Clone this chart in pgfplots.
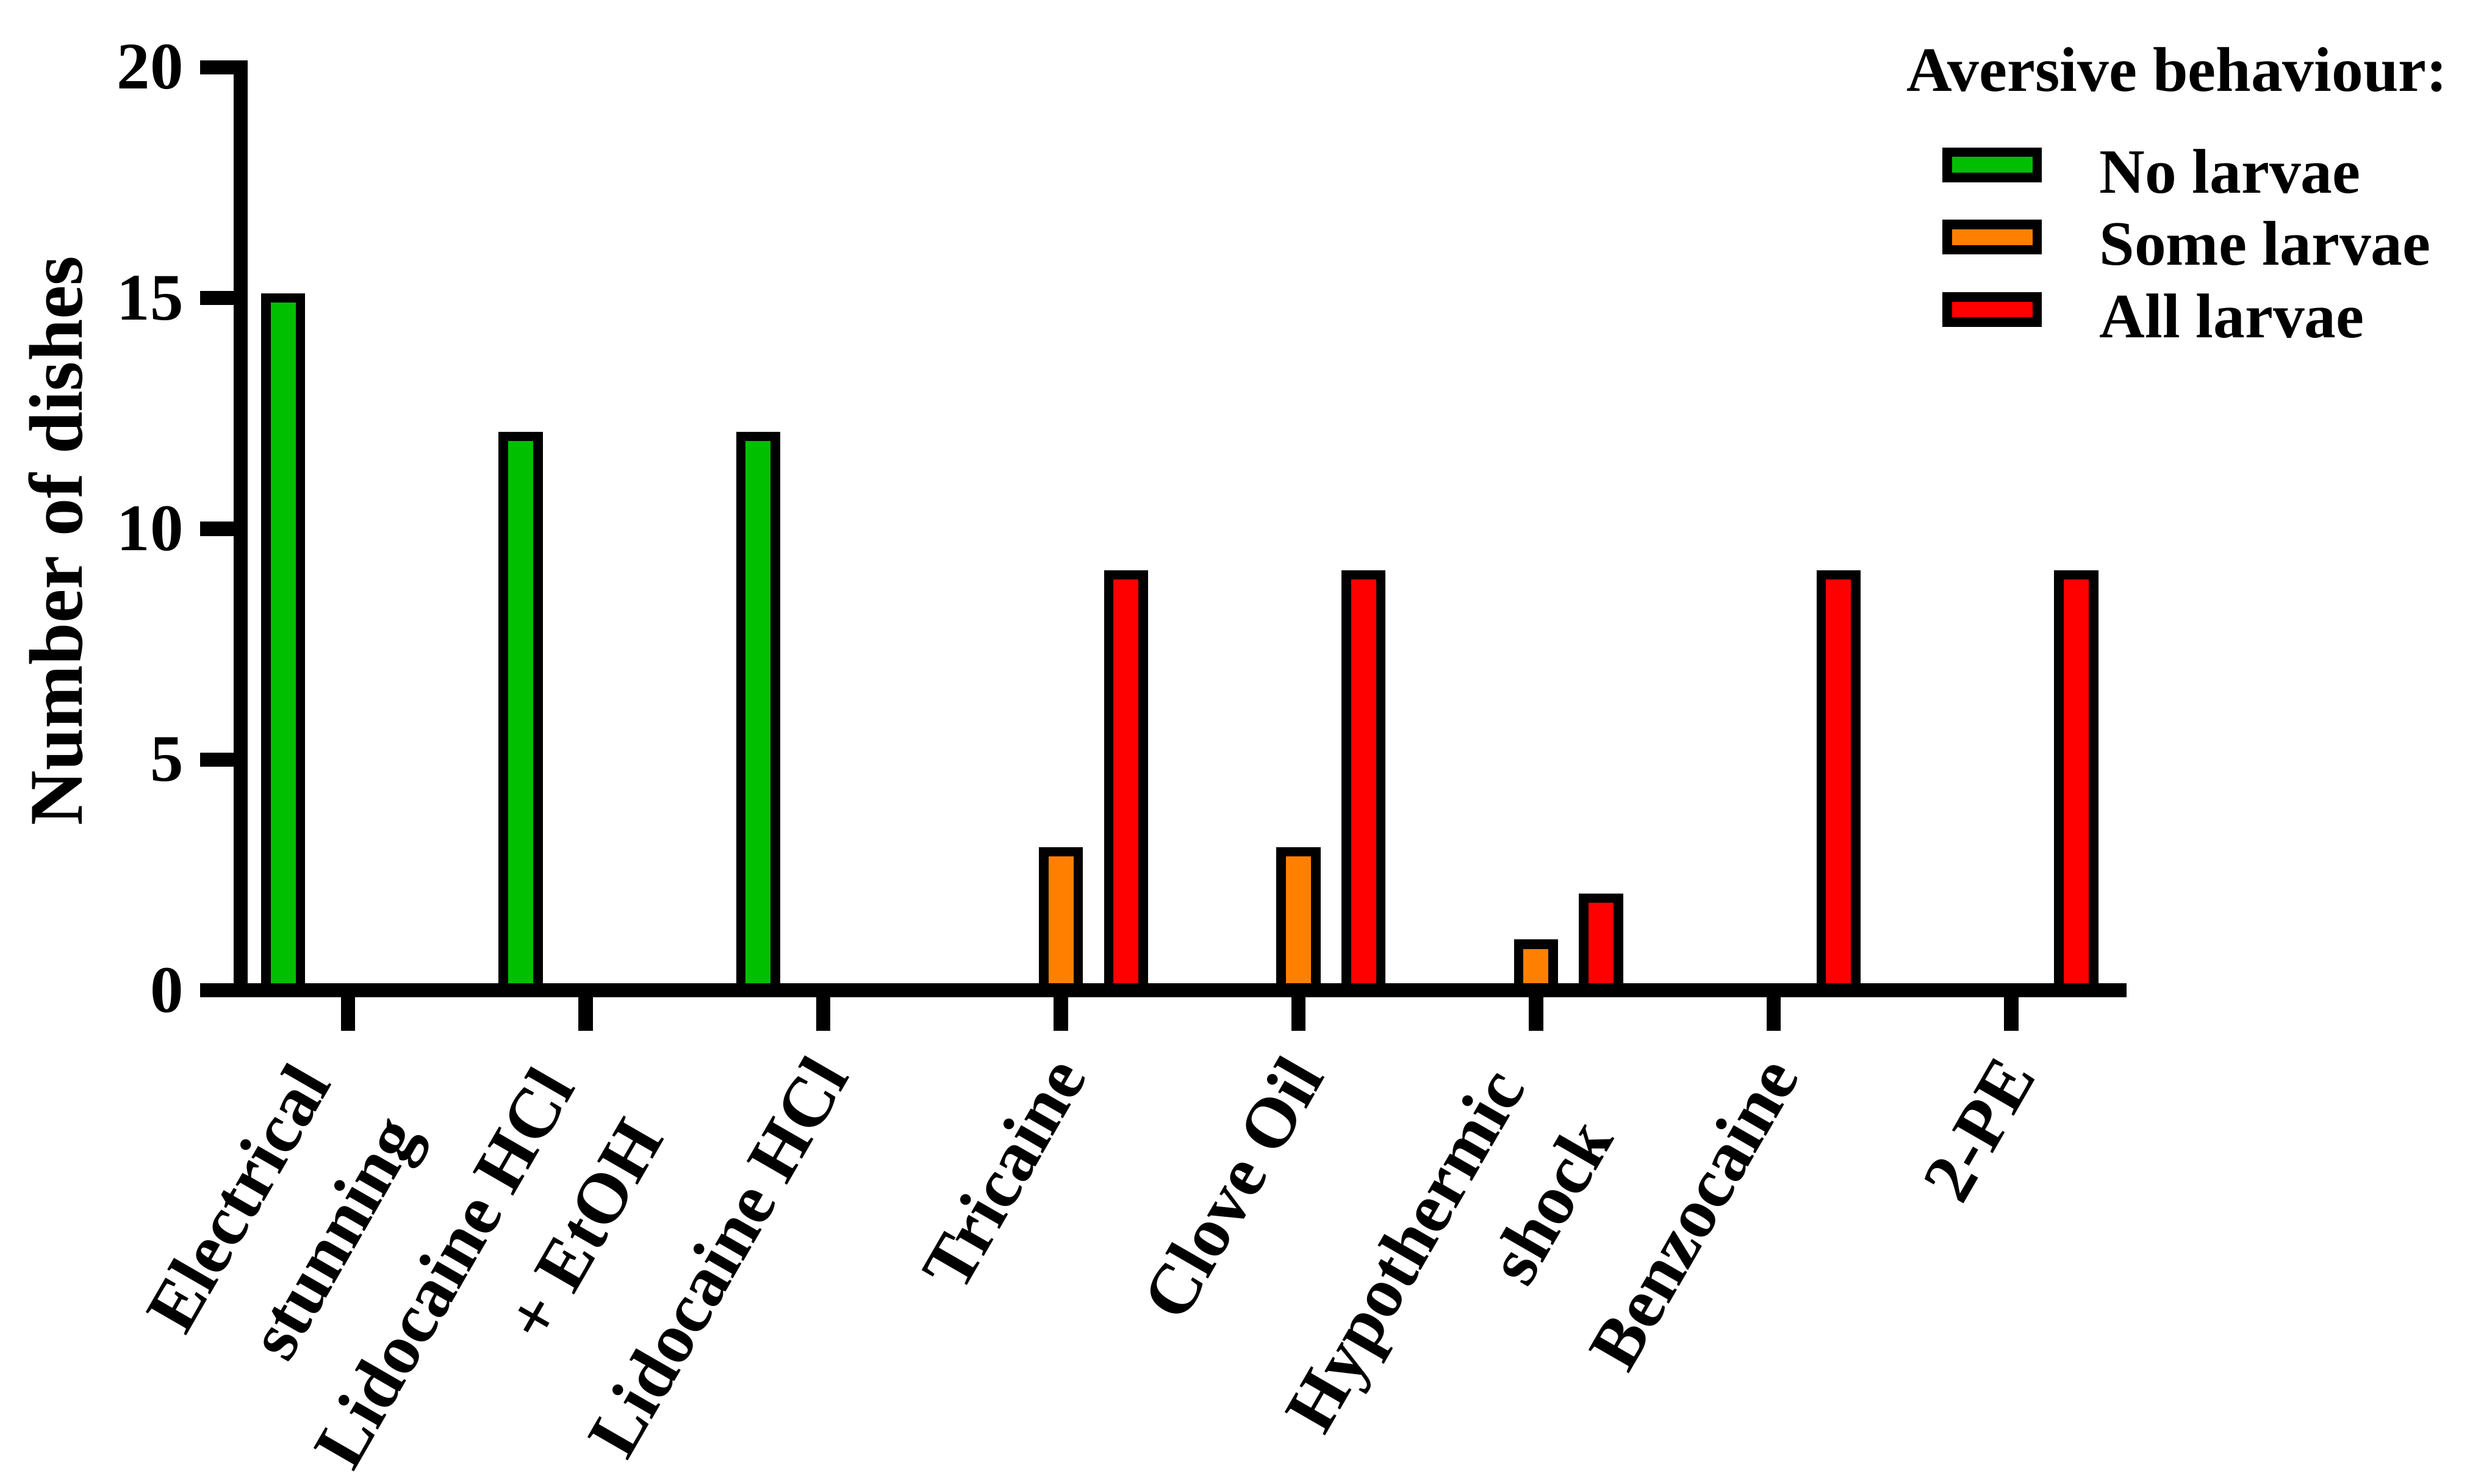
\documentclass[border=0pt]{standalone}
\usepackage{fontspec}
\setmainfont{Liberation Serif}
\usepackage{pgfplots}
\pgfplotsset{compat=1.18}

\definecolor{cgreen}{RGB}{0,191,0}
\definecolor{corange}{RGB}{255,128,0}
\definecolor{cred}{RGB}{255,0,0}

% two-line tick labels sit a little lower and further back than one-line ones
\newcommand{\twoline}[2]{#1\rule{5.8pt}{0pt}\rule{0pt}{20.9pt}\\#2\rule{5.8pt}{0pt}}

\pgfplotsset{
  prismbar/.style={
    draw=black, line width=2pt, fill=#1,
    legend image code/.code={
      \draw[line width=2pt, draw=black, fill=#1] (0pt,0pt) rectangle (19pt,5.3pt);
      \path[draw=none, fill=none] (0pt,-3pt) rectangle (32.1pt,9.5pt);
    },
  },
}

\begin{document}
\begin{tikzpicture}
\useasboundingbox (-50.67pt,-103.9pt) rectangle (472pt,208.67pt);
\begin{axis}[
  at={(0pt,0pt)}, anchor=south west,
  scale only axis,
  width=397.33pt, height=194.5pt,
  ybar=6.43pt, bar width=7.27pt,
  xmin=-0.4529, xmax=7.4858,
  ymin=0, ymax=20,
  axis x line*=bottom, axis y line*=left,
  axis line style={line width=3pt},
  x axis line style={shorten <=-8.5pt},
  y axis line style={line cap=rect},
  axis on top,
  clip=false,
  tick align=outside,
  major tick length=8.5pt,
  tick style={line width=3pt, black},
  xtick={0,...,7},
  ytick={0,5,10,15,20},
  xticklabels={\twoline{Electrical}{stunning}, \twoline{Lidocaine HCl}{+ EtOH}, Lidocaine HCl, Tricaine, Clove Oil, \twoline{Hypothermic}{shock}, Benzocaine, 2-PE},
  xticklabel style={xshift=3pt, yshift=-4pt, rotate=60, anchor=east, align=right,
    font=\fontsize{15}{21.5}\selectfont\bfseries},
  yticklabel style={font=\fontsize{14}{16}\selectfont\bfseries},
  /pgf/number format/assume math mode=true,
  ylabel={Number of dishes},
  ylabel style={at={(axis description cs:-0.0841,0.4871)}, anchor=base,
    font=\fontsize{16}{18}\selectfont\bfseries},
  legend cell align=left,
  legend style={draw=none, fill=none, inner sep=0pt, outer sep=0pt,
    row sep=-0.5pt,
    at={(axis description cs:0.9023,0.9296)}, anchor=north west,
    nodes={inner sep=0pt, text height=9.5pt, text depth=3pt},
    font=\fontsize{13.3}{15}\selectfont\bfseries},
]
\addplot[prismbar=cgreen] coordinates {(0,15) (1,12) (2,12)};
\addplot[prismbar=corange] coordinates {(3,3) (4,3) (5,1)};
\addplot[prismbar=cred] coordinates {(3,9) (4,9) (5,2) (6,9) (7,9)};
\legend{No larvae, Some larvae, All larvae}
\node[anchor=base west, inner sep=0pt, font=\fontsize{13.3}{15}\selectfont\bfseries]
  at (axis description cs:0.8830,0.9743) {Aversive behaviour:};
\end{axis}
\end{tikzpicture}
\end{document}
